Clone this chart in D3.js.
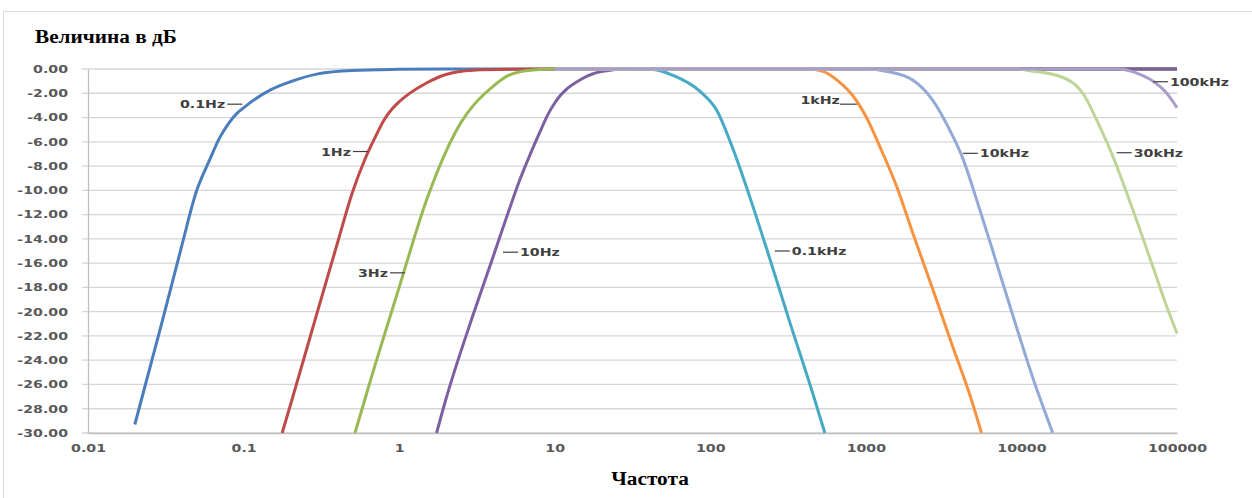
<!DOCTYPE html>
<html>
<head>
<meta charset="utf-8">
<script src="https://d3js.org/d3.v7.min.js"></script>
<style>
  body { margin: 0; background: #fff; }
  svg { display: block; }
  .tick text, .lbl { font-family: "DejaVu Sans", sans-serif; font-weight: bold; font-size: 10.5px; }
  .ttl { font-family: "Liberation Serif", "Times New Roman", serif; font-weight: bold; font-size: 19px; }
</style>
</head>
<body>
<div id="app"></div>
<script>
  // оси
  const freqTicks = [0.01, 0.1, 1, 10, 100, 1000, 10000, 100000];
  const freqLabels = ["0.01", "0.1", "1", "10", "100", "1000", "10000", "100000"];
  const dbTicks = [0, -2, -4, -6, -8, -10, -12, -14, -16, -18, -20, -22, -24, -26, -28, -30];

  // серии (частота, дБ)
  const names = ["0.1Hz", "1Hz", "3Hz", "10Hz", "0.1kHz", "1kHz", "10kHz", "30kHz", "100kHz"];
  const colors = ["#4a7dbb", "#be4b48", "#98b954", "#7d60a0", "#46aac5", "#f69240", "#93a9d6", "#bdd596", "#aa9dc9"];

  const f01 = [0.02, 0.03, 0.04, 0.05, 0.06, 0.07, 0.08, 0.09, 0.1, 0.15, 0.2, 0.3, 0.5, 1, 2, 100000];
  const d01 = [-29.3, -20.8, -14.6, -10.0, -7.6, -5.7, -4.5, -3.7, -3.2, -1.7, -1.05, -0.4, -0.12, -0.03, 0, 0];
  const f1 = [0.177, 0.2, 0.3, 0.4, 0.5, 0.6, 0.7, 0.8, 0.9, 1, 1.5, 2, 3, 5, 10, 100000];
  const d1 = [-30, -27.7, -19.9, -14.4, -10.2, -7.5, -5.65, -4.2, -3.3, -2.7, -1.15, -0.45, -0.1, -0.02, 0, 0];
  const f3 = [0.52, 0.6, 0.7, 0.8, 1, 1.5, 2, 2.5, 3, 4, 5, 7, 10, 100000];
  const d3v = [-30, -27.3, -24.4, -22.0, -18.0, -10.8, -6.8, -4.4, -3.0, -1.45, -0.55, -0.1, 0, 0];
  const f10 = [1.74, 2, 3, 4, 5, 6, 7, 8, 9, 10, 15, 20, 30, 100000];
  const d10 = [-30, -27.2, -20.2, -15.55, -11.9, -9.05, -6.95, -5.25, -3.8, -2.8, -0.8, -0.2, 0, 0];
  const f100 = [10, 39, 46, 57, 86, 110, 140, 180, 230, 325, 455, 545];
  const d100 = [0, 0, -0.1, -0.5, -1.85, -3.4, -6.6, -10.6, -14.8, -20.9, -26.7, -30];
  const f1k = [10, 420, 530, 650, 870, 1000, 1230, 1580, 2000, 2700, 3600, 4700, 5540];
  const d1k = [0, 0, -0.2, -0.9, -2.6, -3.9, -6.4, -9.7, -13.5, -18.2, -22.8, -27.0, -30];
  const f10k = [10, 1000, 1370, 2000, 2700, 3640, 4120, 5400, 6550, 8800, 11800, 15900];
  const d10k = [0, 0, -0.2, -0.9, -2.6, -5.6, -7.1, -11.6, -15.0, -20.3, -25.4, -30];
  const f30k = [10, 9800, 10800, 17600, 24800, 32000, 38700, 52000, 70000, 86000, 100000];
  const d30k = [0, 0, -0.1, -0.6, -2, -4.8, -7.2, -11.6, -16.3, -19.6, -21.8];
  const f100k = [10, 42900, 51000, 57700, 70000, 86000, 100000];
  const d100k = [0, 0, -0.2, -0.45, -1.0, -2.0, -3.2];

  const seriesF = [f01, f1, f3, f10, f100, f1k, f10k, f30k, f100k];
  const seriesD = [d01, d1, d3v, d10, d100, d1k, d10k, d30k, d100k];

  // подписи серий: точка на кривой и сторона
  const labelF = [0.098, 0.63, 1.09, 4.65, 260, 875, 4200, 41000, 70000];
  const labelDb = [-2.9, -6.8, -16.8, -15.1, -15.0, -2.9, -6.95, -6.9, -1.05];
  const labelSide = ["left", "left", "left", "right", "right", "under", "right", "right", "right"];

  const W = 1252, H = 498;
  const sx = 1.35; // текст в оригинале растянут по горизонтали

  const svg = d3.select("#app").append("svg").attr("width", W).attr("height", H);

  svg.append("rect")
    .attr("x", 3.5).attr("y", 11.5).attr("width", 1300).attr("height", 600)
    .attr("fill", "none").attr("stroke", "#d9d9d9");

  const x = d3.scaleLog().domain([0.01, 100000]).range([88, 1177]);
  const y = d3.scaleLinear().domain([-30, 0]).range([433, 69]);

  // сетка
  svg.append("g").selectAll("line").data(dbTicks).enter().append("line")
    .attr("x1", 82).attr("x2", x.range()[1])
    .attr("y1", d => y(d)).attr("y2", d => y(d))
    .attr("stroke", "#d6d6d6").attr("stroke-width", 1.3);

  const yAxis = svg.append("g").attr("transform", "translate(88,0)")
    .call(d3.axisLeft(y).tickValues(dbTicks).tickFormat(d => d.toFixed(2)).tickSize(0).tickSizeOuter(0));
  yAxis.select(".domain").attr("stroke", "#bfbfbf").attr("stroke-width", 1.3);
  yAxis.selectAll("text").attr("fill", "#595959").attr("x", -20 / sx).attr("transform", `scale(${sx},1)`);

  const xAxis = svg.append("g").attr("transform", "translate(0,433)")
    .call(d3.axisBottom(x).tickValues(freqTicks).tickFormat((d, i) => freqLabels[i]).tickSize(0).tickSizeOuter(0).tickPadding(12));
  xAxis.select(".domain").attr("stroke", "#bfbfbf").attr("stroke-width", 1.3);
  xAxis.selectAll("text").attr("fill", "#595959").attr("transform", `scale(${sx},1)`);

  // кривые
  const line = d3.line().x(d => x(d[0])).y(d => y(d[1])).curve(d3.curveMonotoneX);
  const series = names.map((n, i) => ({ name: n, color: colors[i], pts: seriesF[i].map((f, j) => [f, seriesD[i][j]]) }));

  svg.append("g").selectAll("path").data(series).enter().append("path")
    .attr("d", d => line(d.pts))
    .attr("fill", "none")
    .attr("stroke", d => d.color)
    .attr("stroke-width", 3)
    .attr("stroke-linejoin", "round");

  // подписи
  const lg = svg.append("g");
  names.forEach((n, i) => {
    const px = x(labelF[i]), py = y(labelDb[i]);
    const side = labelSide[i];
    let x1, x2, tx, anchor, ty;
    if (side === "left") { x1 = px - 15; x2 = px; tx = px - 17; anchor = "end"; ty = py + 4; }
    else if (side === "under") { x1 = px - 17; x2 = px; tx = px - 17; anchor = "end"; ty = py; }
    else { x1 = px; x2 = px + 15; tx = px + 17; anchor = "start"; ty = py + 4; }
    lg.append("line").attr("x1", x1).attr("x2", x2).attr("y1", py).attr("y2", py)
      .attr("stroke", "#404040").attr("stroke-width", 1.2);
    lg.append("text").attr("class", "lbl")
      .attr("transform", `translate(${tx},${ty}) scale(${sx},1)`)
      .attr("text-anchor", anchor).attr("fill", "#404040").text(n);
  });

  svg.append("text").attr("class", "ttl").attr("transform", "translate(35,43) scale(1.12,1)").text("Величина в дБ");
  svg.append("text").attr("class", "ttl").attr("transform", "translate(650,485) scale(1.12,1)").attr("text-anchor", "middle").text("Частота");
</script>
</body>
</html>
